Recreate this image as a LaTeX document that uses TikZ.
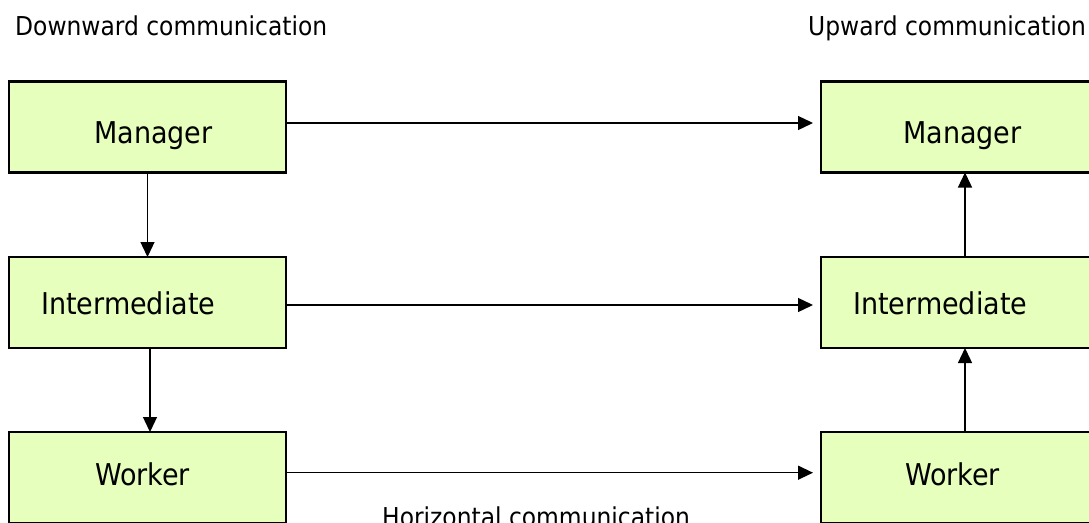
\documentclass[tikz,border=0pt]{standalone}
\usepackage{fontspec}
\setmainfont{DejaVu Sans Condensed}
\usetikzlibrary{arrows.meta}
\definecolor{boxfill}{HTML}{E6FFBC}
\tikzset{
  boxnode/.style={draw=black, fill=boxfill, line width=2.5pt, inner sep=0pt, outer sep=0pt,
    minimum width=277pt, minimum height=91pt},
  boxtext/.style={anchor=base west, inner sep=0pt, font=\fontsize{30}{36}\selectfont},
  headtext/.style={anchor=base west, inner sep=0pt, font=\fontsize{26}{31}\selectfont},
  arr/.style={line width=1.3pt, -{Triangle[length=15pt,width=14pt]}}
}
\begin{document}
\begin{tikzpicture}[x=1pt,y=-1pt]
\useasboundingbox (0,0) rectangle (1089,522);
\clip (0,0) rectangle (1089,522);
\fill[white] (0,0) rectangle (1089,522);
% boxes
\node[boxnode] (mL) at (147.5,127) {};
\node[boxnode] (iL) at (147.5,302.5) {};
\node[boxnode] (wL) at (147.5,477.5) {};
\node[boxnode] (mR) at (959.5,127) {};
\node[boxnode] (iR) at (959.5,302.5) {};
\node[boxnode] (wR) at (959.5,477.5) {};
% box texts
\node[boxtext] (tmL) at (94,143.3) {Manager};
\node[boxtext] (tiL) at (41,314.3) {Intermediate};
\node[boxtext] (twL) at (95,485) {Worker};
\node[boxtext] (tmR) at (903,143.3) {Manager};
\node[boxtext] (tiR) at (853,314.3) {Intermediate};
\node[boxtext] (twR) at (905,485) {Worker};
% headings
\node[headtext] (hd) at (15,35.7) {Downward communication};
\node[headtext] (hu) at (808,35.5) {Upward communication};
\node[headtext] (hh) at (382,526) {Horizontal communication};
% horizontal arrows
\draw[arr] ([yshift=4pt]mL.east) -- ([yshift=4pt,xshift=-8pt]mR.west);
\draw[arr] ([yshift=-2.5pt]iL.east) -- ([yshift=-2.5pt,xshift=-8pt]iR.west);
\draw[arr] ([yshift=4.8pt]wL.east) -- ([yshift=4.8pt,xshift=-8pt]wR.west);
% downward arrows
\draw[arr] (mL.south) -- (iL.north);
\draw[arr] ([xshift=2.5pt]iL.south) -- ([xshift=2.5pt]wL.north);
% upward arrows
\draw[arr] ([xshift=5.5pt]iR.north) -- ([xshift=5.5pt]mR.south);
\draw[arr] ([xshift=5.5pt]wR.north) -- ([xshift=5.5pt]iR.south);
\end{tikzpicture}
\end{document}
